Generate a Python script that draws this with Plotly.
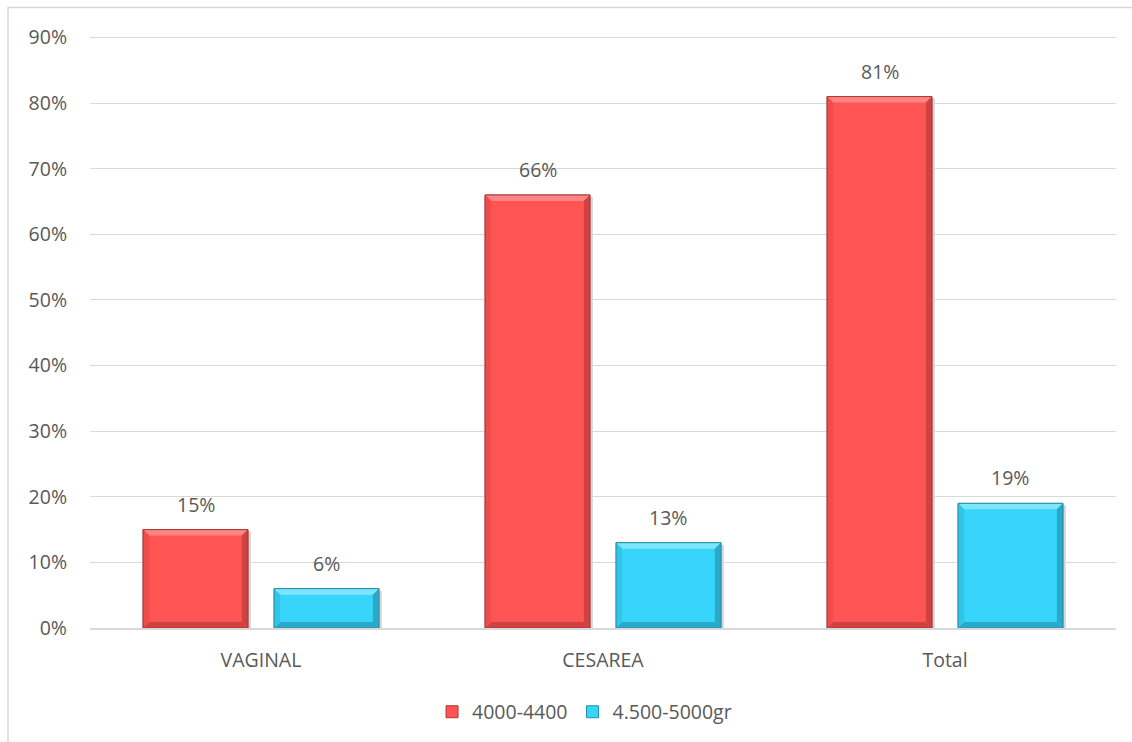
import plotly.graph_objects as go

categories = ["VAGINAL", "CESAREA", "Total"]
series_names = ["4000-4400", "4.500-5000gr"]
values_a = [15, 66, 81]
values_b = [6, 13, 19]
y_ticks = [0, 10, 20, 30, 40, 50, 60, 70, 80, 90]
y_tick_labels = [f"{v}%" for v in y_ticks]

colors = ["#FF5454", "#36D5F9"]
edge_colors = ["#A93838", "#2A8FAA"]
top_colors = ["#FF8585", "#7EE6FC"]
side_colors = ["#F04C4C", "#31C6E8"]
bottom_colors = ["#D04242", "#2AA9C8"]

FONT = "'Open Sans', sans-serif"
TXT = "#595959"
FS = 19.5

W, H = 1132, 742
y_max, y_top = 90, 91
# 0% sits at y=628 px and 90% at y=38 px
grid_px = 628 - 38
ph = grid_px * y_top / y_max
ml, mr, mb = 90, 16, 114
mt = H - mb - ph
pw = W - ml - mr

fig = go.Figure()
for name, vals, col, edge in zip(series_names, [values_a, values_b], colors, edge_colors):
    fig.add_trace(go.Bar(
        x=list(range(len(categories))), y=vals, name=name,
        marker=dict(color=col, line=dict(color=edge, width=1)),
        hovertext=categories, hoverinfo="text+y",
    ))

n = len(series_names)
bargap, groupgap = 0.234, 0.2
slot = (1 - bargap) / n
bar_w = slot * (1 - groupgap)

# pixel -> data conversions for the bevel strips
px_x = len(categories) / pw
px_y = y_top / ph
bx, by = 6 * px_x, 6 * px_y

shapes = []
for si, vals in enumerate([values_a, values_b]):
    off = -(1 - bargap) / 2 + slot * (si + 0.5)
    for ci, v in enumerate(vals):
        xc = ci + off
        x0, x1 = xc - bar_w / 2, xc + bar_w / 2
        # soft shadow
        shapes.append(dict(type="rect", xref="x", yref="y", layer="below",
                           x0=x0 + 2 * px_x, x1=x1 + 3 * px_x, y0=-3 * px_y, y1=v - 2 * px_y,
                           fillcolor="rgba(0,0,0,0.16)", line=dict(width=0)))
        # bevel: top, bottom, left, right
        pieces = [
            (f"M{x0},{v} L{x1},{v} L{x1-bx},{v-by} L{x0+bx},{v-by} Z", top_colors[si]),
            (f"M{x0},0 L{x1},0 L{x1-bx},{by} L{x0+bx},{by} Z", bottom_colors[si]),
            (f"M{x0},0 L{x0},{v} L{x0+bx},{v-by} L{x0+bx},{by} Z", side_colors[si]),
            (f"M{x1},0 L{x1},{v} L{x1-bx},{v-by} L{x1-bx},{by} Z", bottom_colors[si]),
        ]
        for path, fc in pieces:
            shapes.append(dict(type="path", xref="x", yref="y", layer="above",
                               path=path, fillcolor=fc, line=dict(width=0)))
        shapes.append(dict(type="rect", xref="x", yref="y", layer="above",
                           x0=x0, x1=x1, y0=0, y1=v, fillcolor="rgba(0,0,0,0)",
                           line=dict(color=edge_colors[si], width=1)))
        fig.add_annotation(
            x=xc, y=v, xref="x", yref="y", text=f"{v}%",
            showarrow=False, yanchor="bottom", yshift=10,
            font=dict(size=FS, color=TXT, family=FONT),
        )

# chart frame
shapes.append(dict(type="rect", xref="paper", yref="paper",
                   x0=(8 - ml) / pw, x1=1.2, y0=-0.5, y1=1 + (mt - 8) / ph,
                   line=dict(color="#D9D9D9", width=1.5), layer="below"))

fig.update_layout(
    width=W, height=H,
    margin=dict(l=ml, r=mr, t=mt, b=mb, autoexpand=False),
    paper_bgcolor="white", plot_bgcolor="white",
    barmode="group", bargap=bargap, bargroupgap=groupgap,
    font=dict(family=FONT, size=FS, color=TXT),
    showlegend=True,
    legend=dict(orientation="h", x=0.482, xanchor="center", y=-84 / ph, yanchor="middle",
                font=dict(size=FS, color=TXT), traceorder="normal",
                itemwidth=30, tracegroupgap=0),
    xaxis=dict(showgrid=False, showline=True, linecolor="#D9D9D9", linewidth=1.5,
               tickvals=list(range(len(categories))), ticktext=categories,
               range=[-0.5, len(categories) - 0.5],
               ticks="", ticklabelstandoff=14, tickfont=dict(size=FS, color=TXT)),
    yaxis=dict(range=[0, y_top], tickvals=y_ticks, ticktext=y_tick_labels,
               showgrid=True, gridcolor="#D9D9D9", gridwidth=1, zeroline=False,
               showline=False, ticks="", ticklabelstandoff=22,
               tickfont=dict(size=FS, color=TXT)),
    shapes=shapes,
)

fig.write_html("out.html")
